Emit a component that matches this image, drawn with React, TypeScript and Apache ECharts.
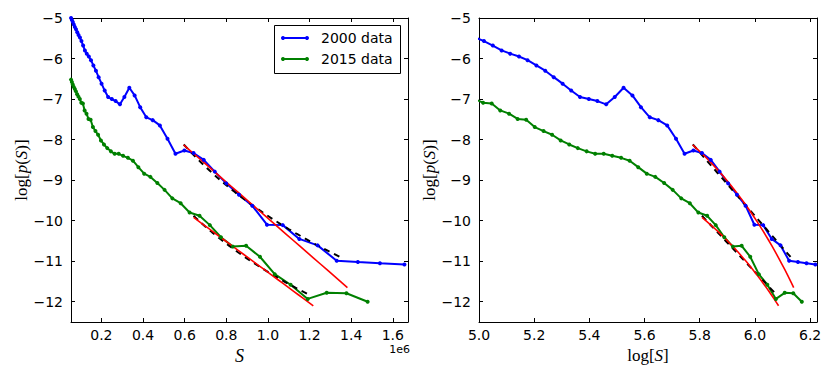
import React, { useEffect, useRef } from "react";
import * as echarts from "echarts";

// log10(S) of the 2000 data bins and their log[p(S)]
const blueLogS = [
  4.734, 4.766, 4.797, 4.829, 4.86, 4.892, 4.924, 4.955, 4.987, 5.018, 5.05, 5.082,
  5.113, 5.145, 5.176, 5.208, 5.24, 5.271, 5.303, 5.334, 5.366, 5.398, 5.429, 5.461,
  5.492, 5.524, 5.556, 5.587, 5.619, 5.65, 5.682, 5.714, 5.745, 5.777, 5.808, 5.84,
  5.872, 5.903, 5.935, 5.966, 5.998, 6.03, 6.061, 6.093, 6.124, 6.156, 6.187, 6.219,
];
const blueLogP = [
  -5.0, -5.05, -5.1, -5.16, -5.22, -5.28, -5.35, -5.42, -5.48, -5.57, -5.68, -5.8,
  -5.88, -5.95, -6.04, -6.17, -6.3, -6.46, -6.62, -6.79, -6.95, -7.0, -7.05, -7.13,
  -6.95, -6.72, -6.91, -7.2, -7.45, -7.52, -7.65, -7.98, -8.35, -8.27, -8.33, -8.5,
  -8.79, -9.08, -9.36, -9.63, -10.1, -10.11, -10.45, -10.61, -10.99, -11.02, -11.05, -11.08,
];
// log10(S) of the 2015 data bins and their log[p(S)]
const greenLogS = [
  4.734, 4.765, 4.796, 4.828, 4.859, 4.89, 4.921, 4.953, 4.984, 5.015, 5.046, 5.077,
  5.109, 5.14, 5.171, 5.202, 5.234, 5.265, 5.296, 5.327, 5.358, 5.39, 5.421, 5.452,
  5.483, 5.515, 5.546, 5.577, 5.608, 5.639, 5.671, 5.702, 5.733, 5.764, 5.795, 5.827,
  5.858, 5.889, 5.92, 5.952, 5.983, 6.014, 6.045, 6.076, 6.108, 6.139, 6.17,
];
const greenLogP = [
  -6.52, -6.58, -6.64, -6.7, -6.75, -6.81, -6.88, -6.94, -7.0, -7.09, -7.11, -7.28,
  -7.36, -7.49, -7.51, -7.69, -7.79, -7.88, -8.02, -8.12, -8.21, -8.29, -8.35, -8.35,
  -8.4, -8.45, -8.52, -8.68, -8.84, -8.92, -9.07, -9.24, -9.45, -9.57, -9.8, -9.88,
  -10.11, -10.41, -10.64, -10.62, -10.89, -11.32, -11.58, -11.93, -11.78, -11.79, -12.0,
];

// fitted lines: exponential fit (straight in S, units of 1e6) and power-law fit (straight in log S)
const blueExpFitS = [0.595, 1.382];
const blueExpFitY = [-8.13, -11.65];
const bluePowFitLogS = [5.775, 6.131];
const bluePowFitY = [-8.12, -10.91];
const greenExpFitS = [0.643, 1.218];
const greenExpFitY = [-9.92, -12.1];
const greenPowFitLogS = [5.808, 6.08];
const greenPowFitY = [-9.88, -11.84];

const yTicks = [-12, -11, -10, -9, -8, -7, -6, -5];
const leftXTicks = [0.2, 0.4, 0.6, 0.8, 1.0, 1.2, 1.4, 1.6];
const rightXTicks = [5.0, 5.2, 5.4, 5.6, 5.8, 6.0, 6.2];
const legendLabels = ["2000 data", "2015 data"];

const BLUE = "#0000ff";
const GREEN = "#008000";
const RED = "#ff0000";
const SANS = "DejaVu Sans";
const SERIF = "Liberation Serif";
const STEPS = 24;

const toS = (l: number) => Math.pow(10, l - 6);
const toLog = (s: number) => Math.log10(s * 1e6);

// straight segment in S drawn on either axis
const expLine = (s: number[], y: number[], logAxis: boolean) => {
  const pts: number[][] = [];
  for (let k = 0; k <= STEPS; k++) {
    const t = k / STEPS;
    const sv = s[0] + (s[1] - s[0]) * t;
    const yv = y[0] + (y[1] - y[0]) * t;
    pts.push([logAxis ? toLog(sv) : sv, yv]);
  }
  return pts;
};
// straight segment in log S drawn on either axis
const powLine = (l: number[], y: number[], logAxis: boolean) => {
  const pts: number[][] = [];
  for (let k = 0; k <= STEPS; k++) {
    const t = k / STEPS;
    const lv = l[0] + (l[1] - l[0]) * t;
    const yv = y[0] + (y[1] - y[0]) * t;
    pts.push([logAxis ? lv : toS(lv), yv]);
  }
  return pts;
};

const minus = (v: number) => (v < 0 ? "\u2212" + Math.abs(v) : String(v));

const axisBase = (extra: any) => ({
  type: "value",
  axisLine: { show: true, onZero: false, lineStyle: { color: "#000", width: 1 } },
  splitLine: { show: false },
  ...extra,
});

const tickStyle = (values: number[]) => ({
  show: true,
  inside: true,
  length: 4,
  customValues: values,
  lineStyle: { color: "#000", width: 1 },
});

const labelStyle = (values: number[], fmt: (v: number) => string, margin: number) => ({
  show: true,
  customValues: values,
  formatter: fmt,
  fontFamily: SANS,
  fontSize: 14,
  color: "#000",
  margin,
});

const richName = {
  a: { fontFamily: SERIF, fontSize: 17, color: "#000" },
  b: { fontFamily: SERIF, fontSize: 17, fontStyle: "italic", color: "#000" },
};

export default function App() {
  const ref = useRef<HTMLDivElement>(null);
  useEffect(() => {
    if (!ref.current) return;
    const chart = echarts.init(ref.current, null, { renderer: "svg" });

    const dataSeries = (
      name: string,
      logS: number[],
      logP: number[],
      color: string,
      logAxis: boolean,
      idx: number
    ) => ({
      type: "line",
      name,
      xAxisIndex: idx,
      yAxisIndex: idx,
      data: logS.map((l, i) => [logAxis ? l : toS(l), logP[i]]),
      symbol: "circle",
      symbolSize: 4,
      showSymbol: true,
      clip: true,
      lineStyle: { color, width: 2 },
      itemStyle: { color, borderWidth: 0 },
      silent: true,
    });
    const fitSeries = (pts: number[][], color: string, dashed: boolean, idx: number) => ({
      type: "line",
      xAxisIndex: idx,
      yAxisIndex: idx,
      data: pts,
      symbol: "none",
      clip: true,
      lineStyle: dashed
        ? { color, width: 2, type: [6, 5] }
        : { color, width: 1.6 },
      silent: true,
    });

    const option: any = {
      animation: false,
      backgroundColor: "#fff",
      grid: [
        { left: 71, top: 18, width: 337, height: 304 },
        { left: 479, top: 18, width: 338, height: 304 },
      ],
      xAxis: [
        axisBase({
          gridIndex: 0,
          position: "bottom",
          min: 0.054,
          max: 1.673,
          axisTick: tickStyle(leftXTicks),
          axisLabel: labelStyle(leftXTicks, (v: number) => v.toFixed(1), 6),
          name: "S",
          nameLocation: "middle",
          nameGap: 22,
          nameTextStyle: { fontFamily: SERIF, fontStyle: "italic", fontSize: 18, color: "#000" },
        }),
        axisBase({
          gridIndex: 1,
          position: "bottom",
          min: 5.0,
          max: 6.225,
          axisTick: tickStyle(rightXTicks),
          axisLabel: labelStyle(rightXTicks, (v: number) => v.toFixed(1), 6),
          name: "{a|log[}{b|S}{a|]}",
          nameLocation: "middle",
          nameGap: 22,
          nameTextStyle: { rich: richName },
        }),
        axisBase({
          gridIndex: 0,
          position: "top",
          min: 0.054,
          max: 1.673,
          axisTick: tickStyle(leftXTicks),
          axisLabel: { show: false },
        }),
        axisBase({
          gridIndex: 1,
          position: "top",
          min: 5.0,
          max: 6.225,
          axisTick: tickStyle(rightXTicks),
          axisLabel: { show: false },
        }),
      ],
      yAxis: [
        axisBase({
          gridIndex: 0,
          position: "left",
          min: -12.5,
          max: -5,
          axisTick: tickStyle(yTicks),
          axisLabel: labelStyle(yTicks, minus, 8),
          name: "{a|log[}{b|p}{a|(}{b|S}{a|)]}",
          nameLocation: "middle",
          nameRotate: 90,
          nameGap: 40,
          nameTextStyle: { rich: richName },
        }),
        axisBase({
          gridIndex: 1,
          position: "left",
          min: -12.5,
          max: -5,
          axisTick: tickStyle(yTicks),
          axisLabel: labelStyle(yTicks, minus, 8),
          name: "{a|log[}{b|p}{a|(}{b|S}{a|)]}",
          nameLocation: "middle",
          nameRotate: 90,
          nameGap: 40,
          nameTextStyle: { rich: richName },
        }),
        axisBase({
          gridIndex: 0,
          position: "right",
          min: -12.5,
          max: -5,
          axisTick: tickStyle(yTicks),
          axisLabel: { show: false },
        }),
        axisBase({
          gridIndex: 1,
          position: "right",
          min: -12.5,
          max: -5,
          axisTick: tickStyle(yTicks),
          axisLabel: { show: false },
        }),
      ],
      series: [
        dataSeries(legendLabels[0], blueLogS, blueLogP, BLUE, false, 0),
        dataSeries(legendLabels[1], greenLogS, greenLogP, GREEN, false, 0),
        fitSeries(powLine(bluePowFitLogS, bluePowFitY, false), "#000", true, 0),
        fitSeries(powLine(greenPowFitLogS, greenPowFitY, false), "#000", true, 0),
        fitSeries(expLine(blueExpFitS, blueExpFitY, false), RED, false, 0),
        fitSeries(expLine(greenExpFitS, greenExpFitY, false), RED, false, 0),

        dataSeries(legendLabels[0], blueLogS, blueLogP, BLUE, true, 1),
        dataSeries(legendLabels[1], greenLogS, greenLogP, GREEN, true, 1),
        fitSeries(powLine(bluePowFitLogS, bluePowFitY, true), "#000", true, 1),
        fitSeries(powLine(greenPowFitLogS, greenPowFitY, true), "#000", true, 1),
        fitSeries(expLine(blueExpFitS, blueExpFitY, true), RED, false, 1),
        fitSeries(expLine(greenExpFitS, greenExpFitY, true), RED, false, 1),
      ],
      graphic: [
        {
          type: "text",
          right: 830 - 410,
          top: 344,
          style: { text: "1e6", fontFamily: SANS, fontSize: 11, fill: "#000" },
        },
        {
          type: "group",
          left: 274,
          top: 25,
          children: [
            {
              type: "rect",
              shape: { x: 0.5, y: 0.5, width: 126, height: 48 },
              style: { fill: "#fff", stroke: "#000", lineWidth: 1 },
            },
            ...[BLUE, GREEN].flatMap((c, i) => {
              const y = 13 + i * 21;
              return [
                { type: "line", shape: { x1: 9, y1: y, x2: 33, y2: y }, style: { stroke: c, lineWidth: 2 } },
                { type: "circle", shape: { cx: 9, cy: y, r: 2 }, style: { fill: c } },
                { type: "circle", shape: { cx: 33, cy: y, r: 2 }, style: { fill: c } },
                {
                  type: "text",
                  x: 47,
                  y,
                  style: {
                    text: legendLabels[i],
                    fontFamily: SANS,
                    fontSize: 14,
                    fill: "#000",
                    verticalAlign: "middle",
                  },
                },
              ];
            }),
          ],
        },
      ],
    };
    chart.setOption(option);
    return () => chart.dispose();
  }, []);
  return (
    <div
      ref={ref}
      style={{ position: "fixed", left: 0, top: 0, width: 830, height: 378, background: "#fff" }}
    />
  );
}
